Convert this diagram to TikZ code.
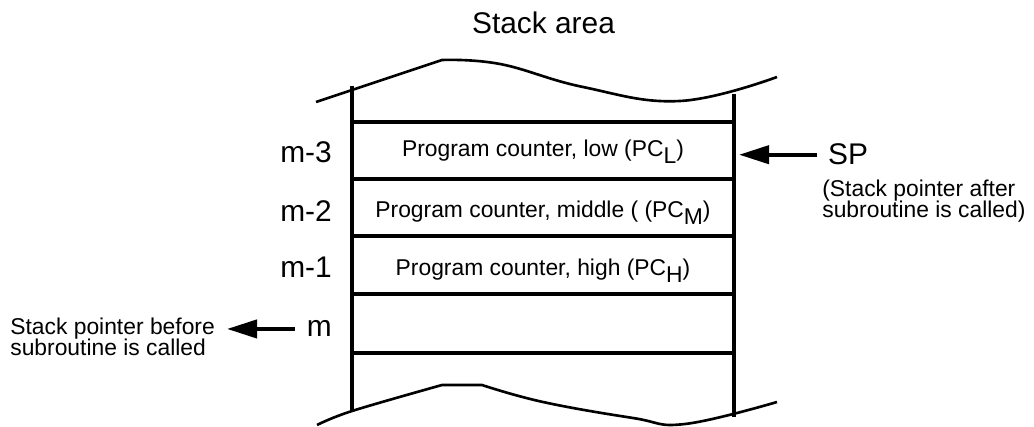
\documentclass[tikz,border=0pt]{standalone}
\usepackage{fontspec}
\setmainfont{Liberation Sans}
\usepackage{tikz}
\usetikzlibrary{arrows.meta}
\tikzset{
  wall/.style={line width=2.3pt},
  wave/.style={line width=1.5pt,line join=round},
  ptr/.style={line width=2.3pt,-{Triangle[length=6mm,width=3.6mm]}},
  big/.style={font=\fontsize{17}{20}\selectfont},
  sml/.style={font=\fontsize{13}{12.3}\selectfont},
  cell/.style={sml,anchor=base}
}
\newcommand{\pcsub}[1]{\raisebox{-0.14cm}{#1}}

\begin{document}
\begin{tikzpicture}
\useasboundingbox (0,0) rectangle (20.68,8.52);
\node[big,anchor=base] (title) at (10.87,7.84) {Stack area};
% torn edges of the stack
\draw[wave] (6.32,6.48) -- (8.84,7.32) plot[smooth,tension=0.7] coordinates {(8.84,7.32) (10.0,7.24) (11.66,6.78) (13.6,6.50) (15.54,6.98)};
\draw[wave] plot[smooth,tension=0.6] coordinates {(6.34,0.02) (7.04,0.30) (8.84,0.82)} -- (9.64,0.82)
  plot[smooth,tension=0.7] coordinates {(9.64,0.82) (10.86,0.48) (12.66,0.16) (13.7,0.04) (15.54,0.48)};
\draw[wall] (7.04,6.80) -- (7.04,0.30);
\draw[wall] (14.68,6.64) -- (14.68,0.18);
\foreach \y in {6.08,4.94,3.80,2.64,1.46} \draw[wall] (7.04,\y) -- (14.68,\y);
% cell contents
\node[cell] (pcl) at (10.86,5.38) {Program counter, low (PC\pcsub{L})};
\node[cell] (pcm) at (10.86,4.16) {Program counter, middle ( (PC\pcsub{M})};
\node[cell] (pch) at (10.86,3.00) {Program counter, high (PC\pcsub{H})};
% addresses
\node[big,anchor=base east] (m3) at (6.76,5.26) {m-3};
\node[big,anchor=base east] (m2) at (6.76,4.08) {m-2};
\node[big,anchor=base east] (m1) at (6.76,2.96) {m-1};
\node[big,anchor=base east] (m0) at (6.76,1.78) {m};
% stack pointers
\node[big,anchor=base west] (sp) at (16.44,5.22) {SP};
\node[sml,anchor=base west,align=left,inner sep=0pt] (after) at (16.44,4.16) {(Stack pointer after\\subroutine is called)};
\coordinate (spNew) at (14.78,5.46);
\draw[ptr] ([xshift=-1mm]sp.west) -- (sp.west -| spNew);
\node[sml,anchor=base west,align=left,inner sep=0pt] (before) at (0.2,1.40) {Stack pointer before\\subroutine is called};
\coordinate (spOld) at (4.54,1.96);
\draw[ptr] ([xshift=-1.2mm]m0.west) -- (m0.west -| spOld);
\end{tikzpicture}
\end{document}
